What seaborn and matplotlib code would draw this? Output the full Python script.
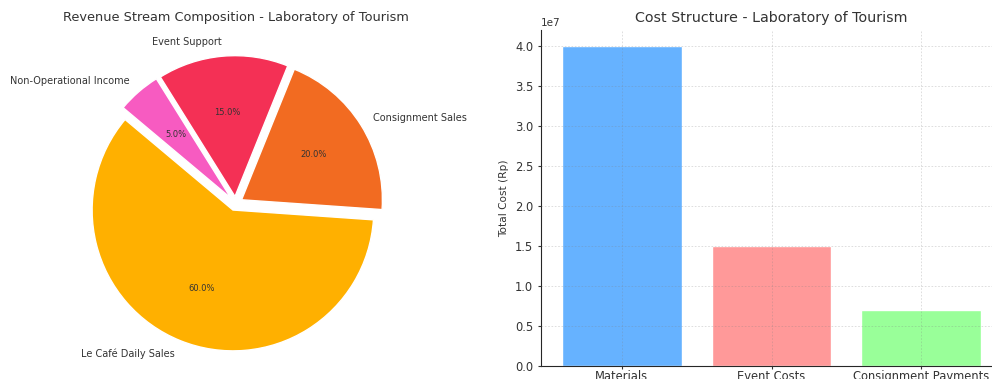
import matplotlib
matplotlib.use("Agg")
import matplotlib.pyplot as plt
import seaborn as sns
import pandas as pd

# revenue streams (pie)
revenue_labels = ["Le Café Daily Sales", "Consignment Sales", "Event Support", "Non-Operational Income"]
revenue_share = [60, 20, 15, 5]
revenue_colors = ["#FFB000", "#F26B21", "#F43055", "#F75BC1"]

# cost structure (bar)
cost_labels = ["Materials", "Event Costs", "Consignment Payments"]
cost_values = [40_000_000, 15_000_000, 7_000_000]
cost_colors = ["#66B2FF", "#FF9999", "#99FF99"]

sns.set_style("ticks")
plt.rcParams["text.color"] = "#333333"
plt.rcParams["axes.labelcolor"] = "#333333"
plt.rcParams["xtick.color"] = "#333333"
plt.rcParams["ytick.color"] = "#333333"

fig = plt.figure(figsize=(9.92, 3.79), dpi=100)
W, H = 992, 379

# 1. revenue pie  (one pie unit ~141 px)
ax1 = fig.add_axes([(235.6 - 169) / W, (H - 203.5 - 169) / H, 338 / W, 338 / H])
ax1.pie(
    revenue_share,
    labels=revenue_labels,
    colors=revenue_colors,
    autopct="%1.1f%%",
    startangle=140,
    explode=[0.05] * len(revenue_share),
    textprops={"fontsize": 7},
)
for t in ax1.texts:
    if t.get_text().endswith("%"):
        t.set_fontsize(6)
ax1.set_xlim(-1.2, 1.2)
ax1.set_ylim(-1.2, 1.2)
ax1.set_aspect("equal")
ax1.set_title("Revenue Stream Composition - Laboratory of Tourism", fontsize=9.3, pad=10)

# 2. cost bars
ax2 = fig.add_axes([541 / W, 13 / H, 461 / W, 336 / H])
df = pd.DataFrame({"category": cost_labels, "cost": cost_values})
sns.barplot(data=df, x="category", y="cost", hue="category", palette=cost_colors,
            legend=False, ax=ax2, width=0.8, saturation=1)
ax2.set_title("Cost Structure - Laboratory of Tourism", fontsize=10.3)
ax2.set_xlabel("")
ax2.set_ylabel("Total Cost (Rp)", fontsize=7.6)
ax2.tick_params(labelsize=8.3, length=2)
ax2.tick_params(axis="x", pad=1)
ax2.yaxis.get_offset_text().set_fontsize(7.5)
ax2.grid(True, linestyle=(0, (2, 2)), color="gray", alpha=0.3, linewidth=0.6)
ax2.set_axisbelow(False)
ax2.set_xlim(-0.54, 2.54)
ax2.set_ylim(0, 4.2e7)
sns.despine(ax=ax2)

plt.savefig("out.png", dpi=100)
